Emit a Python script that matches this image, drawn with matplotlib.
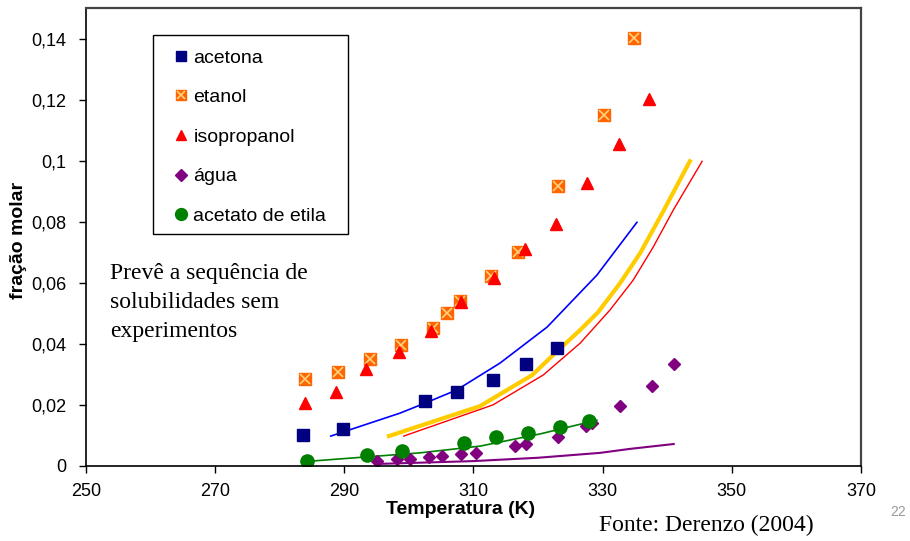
import numpy as np
import matplotlib
matplotlib.use('Agg')
import matplotlib.pyplot as plt
from matplotlib.legend_handler import HandlerTuple
from matplotlib.patches import Rectangle

plt.rcParams['font.family'] = ['Liberation Sans', 'DejaVu Sans']

# experimental points
T_acetona = [283.6, 289.8, 302.5, 307.4, 313.0, 318.1, 322.9]
x_acetona = [0.0101, 0.0121, 0.0213, 0.0242, 0.0281, 0.0334, 0.0386]

T_etanol = [283.9, 289.0, 294.0, 298.8, 303.7, 305.9, 307.9, 312.7, 316.9, 323.1, 330.2, 334.9]
x_etanol = [0.0285, 0.0307, 0.0350, 0.0396, 0.0451, 0.0500, 0.0540, 0.0622, 0.0700, 0.0916, 0.1151, 0.1403]

T_isoprop = [283.9, 288.7, 293.4, 298.5, 303.4, 308.1, 313.2, 318.0, 322.8, 327.6, 332.5, 337.2]
x_isoprop = [0.0206, 0.0242, 0.0317, 0.0373, 0.0442, 0.0536, 0.0615, 0.0710, 0.0792, 0.0926, 0.1053, 0.1201]

T_agua = [295.1, 298.2, 300.2, 303.1, 305.1, 308.1, 310.4, 316.4, 318.1, 323.1, 327.4, 328.4, 332.7, 337.6, 341.0]
x_agua = [0.0016, 0.0023, 0.0023, 0.0029, 0.0033, 0.0039, 0.0043, 0.0065, 0.0072, 0.0095, 0.0131, 0.0141, 0.0196, 0.0262, 0.0334]

T_acetato = [284.2, 293.5, 298.9, 308.5, 313.5, 318.4, 323.4, 327.9]
x_acetato = [0.0016, 0.0036, 0.0049, 0.0075, 0.0095, 0.0108, 0.0128, 0.0147]

# model curves
Tm_acetona = [287.9, 298.6, 302.5, 307.4, 314.1, 321.4, 329.1, 335.3]
xm_acetona = [0.0098, 0.0173, 0.0206, 0.0249, 0.0337, 0.0455, 0.0625, 0.0798]
Tm_etanol = [296.9, 311.0, 319.1, 323.1, 326.5, 329.3, 332.7, 335.8, 339.3, 343.5]
xm_etanol = [0.0098, 0.0196, 0.0298, 0.0379, 0.0445, 0.0504, 0.0599, 0.0697, 0.0831, 0.0998]
Tm_isoprop = [299.2, 313.0, 320.8, 326.5, 331.1, 334.7, 337.8, 340.9, 345.4]
xm_isoprop = [0.0098, 0.0200, 0.0298, 0.0402, 0.0510, 0.0608, 0.0716, 0.0837, 0.0998]
Tm_agua = [295.5, 309.9, 320.0, 329.6, 334.2, 341.0]
xm_agua = [0.0007, 0.0016, 0.0027, 0.0043, 0.0056, 0.0072]
Tm_acetato = [284.2, 301.7, 311.0, 320.3, 329.1]
xm_acetato = [0.0015, 0.0043, 0.0065, 0.0105, 0.0150]

xticks = [250, 270, 290, 310, 330, 350, 370]
yticks = [0, 0.02, 0.04, 0.06, 0.08, 0.1, 0.12, 0.14]
ytick_labels = ['0', '0,02', '0,04', '0,06', '0,08', '0,1', '0,12', '0,14']

W, H = 910, 541
fig = plt.figure(figsize=(W/100, H/100), dpi=100)
ax = fig.add_axes([86/W, 1-466/H, 775/W, 458/H])

# model lines
ax.plot(Tm_acetona, xm_acetona, color='#0000FF', lw=1.2)
ax.plot(Tm_etanol, xm_etanol, color='#FFCC00', lw=3)
ax.plot(Tm_isoprop, xm_isoprop, color='#FF0000', lw=1)
ax.plot(Tm_agua, xm_agua, color='#800080', lw=1.5)
ax.plot(Tm_acetato, xm_acetato, color='#008000', lw=1.2)

# points
h1, = ax.plot(T_acetona, x_acetona, 's', color='#000080', ms=8.5, ls='none')
h2a, = ax.plot(T_etanol, x_etanol, 's', color='#FF6600', ms=8.5, ls='none')
h2b, = ax.plot(T_etanol, x_etanol, 'x', color='#FFD27F', ms=7, mew=1.2, ls='none')
h3, = ax.plot(T_isoprop, x_isoprop, '^', color='#FF0000', ms=8.5, ls='none')
h4, = ax.plot(T_agua, x_agua, 'D', color='#800080', ms=6.5, ls='none')
h5, = ax.plot(T_acetato, x_acetato, 'o', color='#008000', ms=9.5, ls='none')

ax.set_xlim(250, 370)
ax.set_ylim(0, 0.15)
ax.set_xticks(xticks)
ax.set_yticks(yticks)
ax.set_yticklabels(ytick_labels)
ax.tick_params(direction='out', length=5, width=1, labelsize=13)
ax.tick_params(axis='x', pad=7)
ax.tick_params(axis='y', pad=9)

for s in ['left', 'bottom']:
    ax.spines[s].set_color('black')
    ax.spines[s].set_linewidth(1.2)
for s in ['top', 'right']:
    ax.spines[s].set_color('#444444')
    ax.spines[s].set_linewidth(1.6)

ax.set_xlabel('Temperatura (K)', fontsize=14, fontweight='bold')
ax.set_ylabel('fração molar', fontsize=14, fontweight='bold')
ax.xaxis.set_label_coords((461-86)/775, (466-501)/458)
ax.yaxis.set_label_coords((27-86)/775, (466-240)/458)

# legend box drawn separately so the padding matches
ax.add_patch(Rectangle((153/W, 1-234/H), 195/W, 199/H, transform=fig.transFigure,
                       facecolor='white', edgecolor='black', lw=1, zorder=4, clip_on=False))
leg = ax.legend([h1, (h2a, h2b), h3, h4, h5],
                ['acetona', 'etanol', 'isopropanol', 'água', 'acetato de etila'],
                handler_map={tuple: HandlerTuple(ndivide=1, pad=0)},
                loc='upper left', bbox_to_anchor=(174/W, 1-49/H), bbox_transform=fig.transFigure,
                borderaxespad=0, borderpad=0, fontsize=14, frameon=False,
                handlelength=0.7, handletextpad=0.3, labelspacing=1.13,
                markerscale=0.9)
leg.set_zorder(6)

fig.text(110/W, 1-263/H, 'Prevê a sequência de\nsolubilidades sem\nexperimentos',
         family='Liberation Serif', fontsize=17, va='top', ha='left', linespacing=1.5)
fig.text(706/W, 1-525/H, 'Fonte: Derenzo (2004)', family='Liberation Serif',
         fontsize=17, va='center', ha='center')
fig.text(898/W, 1-512/H, '22', fontsize=10, color='#999999', ha='center', va='center')

fig.savefig('out.png', dpi=100)
